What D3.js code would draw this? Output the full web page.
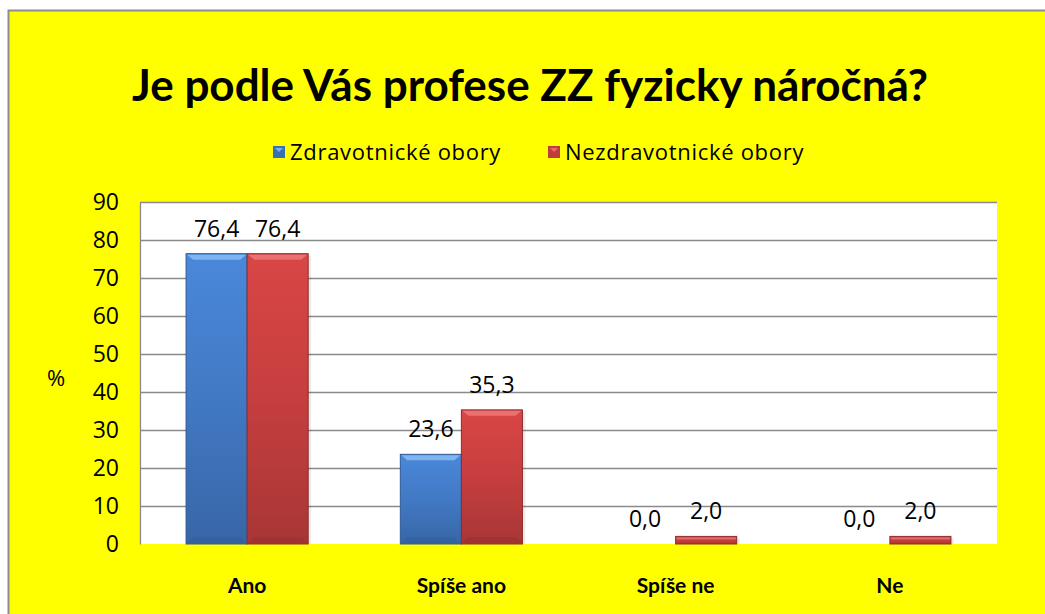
<!DOCTYPE html>
<html>
<head>
<meta charset="utf-8">
<script src="https://cdn.jsdelivr.net/npm/d3@7"></script>
<style>
  html, body { margin: 0; padding: 0; background: #fff; }
  svg { display: block; font-family: "Open Sans", Lato, sans-serif; }
</style>
</head>
<body>
<svg id="chart" width="1045" height="614"></svg>
<script>
// data
const categories = ["Ano", "Spíše ano", "Spíše ne", "Ne"];
const seriesNames = ["Zdravotnické obory", "Nezdravotnické obory"];
const zdravotnicke = [76.4, 23.6, 0.0, 0.0];
const nezdravotnicke = [76.4, 35.3, 2.0, 2.0];
const yTicks = [0, 10, 20, 30, 40, 50, 60, 70, 80, 90];

const svg = d3.select("#chart");
const W = 1045, H = 614;

// background + frame
svg.append("rect").attr("x", 0).attr("y", 0).attr("width", W).attr("height", H).attr("fill", "#fff");
svg.append("rect").attr("x", 8.5).attr("y", 10.5).attr("width", W).attr("height", H)
  .attr("fill", "#ffff00").attr("stroke", "#8c8c8c").attr("stroke-width", 2);

const defs = svg.append("defs");
const grad = (id, top, mid, bot) => {
  const g = defs.append("linearGradient").attr("id", id).attr("x1", 0).attr("y1", 0).attr("x2", 0).attr("y2", 1);
  g.append("stop").attr("offset", "0%").attr("stop-color", top);
  g.append("stop").attr("offset", "50%").attr("stop-color", mid);
  g.append("stop").attr("offset", "100%").attr("stop-color", bot);
};
grad("gBlue", "#4a88da", "#4279c4", "#3766a6");
grad("gRed", "#d94646", "#c63e3e", "#a83636");
const fills = ["url(#gBlue)", "url(#gRed)"];
const edge = ["#2f5a96", "#8e2c2c"];
const hilite = ["#8cc0f5", "#f07c7c"];
const legendFill = ["#3b6fb4", "#c03b3b"];

const margin = { left: 140, right: 48, top: 202, bottom: 70 };
const pw = W - margin.left - margin.right;
const ph = H - margin.top - margin.bottom;

const x = d3.scaleBand().domain(categories).range([0, pw]).paddingInner(0).paddingOuter(0);
const x1 = d3.scaleBand().domain([0, 1]).range([x.bandwidth() * 0.215, x.bandwidth() * 0.785]);
const y = d3.scaleLinear().domain([0, 90]).range([ph, 0]);

const g = svg.append("g").attr("transform", `translate(${margin.left},${margin.top})`);

g.append("rect").attr("x", 0).attr("y", 0).attr("width", pw).attr("height", ph).attr("fill", "#fff");

// gridlines
g.selectAll(".grid").data(yTicks.filter(t => t > 0)).enter().append("line")
  .attr("x1", 0).attr("x2", pw)
  .attr("y1", d => Math.round(y(d)) + 0.5).attr("y2", d => Math.round(y(d)) + 0.5)
  .attr("stroke", "#8a8a8a").attr("stroke-width", 1.3);

// y axis
const yAxis = g.append("g").call(d3.axisLeft(y).tickValues(yTicks).tickSize(0).tickPadding(21));
yAxis.select(".domain").attr("stroke", "#8a8a8a").attr("stroke-width", 1.3);
yAxis.selectAll("text").attr("font-size", 23).attr("fill", "#000").attr("font-family", "'Open Sans', sans-serif");

// bars
const rows = categories.map((c, i) => ({ c, v: [zdravotnicke[i], nezdravotnicke[i]] }));
const groups = g.selectAll(".cat").data(rows).enter().append("g")
  .attr("transform", d => `translate(${x(d.c)},0)`);

groups.each(function(d) {
  const sel = d3.select(this);
  d.v.forEach((v, s) => {
    const bx = x1(s), bw = x1.bandwidth();
    const by = y(v), bh = ph - y(v);
    if (bh > 0) {
      // shadow
      sel.append("rect").attr("x", bx + 3).attr("y", by + 2).attr("width", bw).attr("height", bh - 2)
        .attr("fill", "#000").attr("opacity", 0.08);
      sel.append("rect").attr("x", bx).attr("y", by).attr("width", bw).attr("height", bh)
        .attr("fill", fills[s]).attr("stroke", edge[s]).attr("stroke-width", 1);
      if (bh > 8) {
        // bevel highlight at top
        sel.append("path")
          .attr("d", `M${bx + 1},${by + 1}H${bx + bw - 1}L${bx + bw - 7},${by + 6}H${bx + 7}Z`)
          .attr("fill", hilite[s]).attr("opacity", 0.8);
        // darker bottom bevel
        sel.append("path")
          .attr("d", `M${bx + 1},${by + bh - 1}H${bx + bw - 1}L${bx + bw - 7},${by + bh - 7}H${bx + 7}Z`)
          .attr("fill", edge[s]).attr("opacity", 0.35);
      } else {
        sel.append("rect").attr("x", bx + 1).attr("y", by + 1).attr("width", bw - 2).attr("height", 2)
          .attr("fill", hilite[s]).attr("opacity", 0.7);
      }
    }
    sel.append("text")
      .attr("x", bx + bw / 2).attr("y", by - 17)
      .attr("text-anchor", "middle").attr("font-size", 23).attr("fill", "#000")
      .text(v.toFixed(1).replace(".", ","));
  });
});

// x labels
g.selectAll(".xl").data(categories).enter().append("text")
  .attr("x", d => x(d) + x.bandwidth() / 2).attr("y", ph + 49)
  .attr("text-anchor", "middle").attr("font-size", 21).attr("font-weight", "bold").attr("fill", "#000")
  .attr("font-family", "Lato, sans-serif")
  .text(d => d);

// y label
svg.append("text").attr("x", 56).attr("y", 386).attr("text-anchor", "middle")
  .attr("font-size", 22).attr("fill", "#000").text("%");

// title
svg.append("text").attr("x", 530).attr("y", 101).attr("text-anchor", "middle")
  .attr("font-size", 44).attr("font-weight", "bold").attr("fill", "#000")
  .attr("font-family", "Lato, sans-serif")
  .text("Je podle Vás profese ZZ fyzicky náročná?");

// legend
const legX = [273, 548];
seriesNames.forEach((n, i) => {
  svg.append("rect").attr("x", legX[i]).attr("y", 146).attr("width", 12).attr("height", 12)
    .attr("fill", legendFill[i]);
  svg.append("path").attr("d", `M${legX[i] + 2},${148}H${legX[i] + 10}L${legX[i] + 6},${152}Z`)
    .attr("fill", hilite[i]).attr("opacity", 0.8);
  svg.append("text").attr("x", legX[i] + 17).attr("y", 160)
    .attr("font-size", 22).attr("letter-spacing", 0.7).attr("fill", "#000").text(n);
});
</script>
</body>
</html>
